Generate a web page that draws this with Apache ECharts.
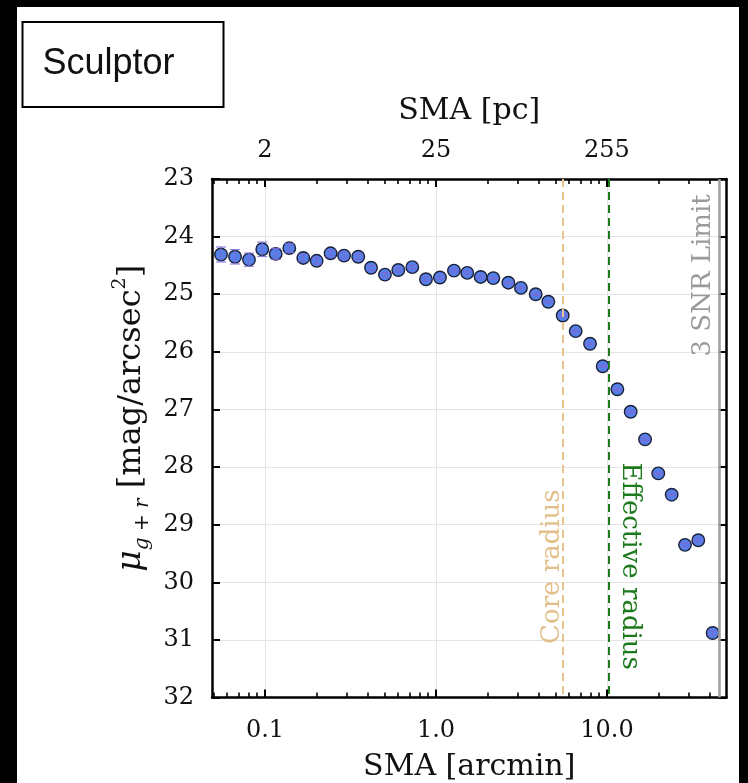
<!DOCTYPE html>
<html>
<head>
<meta charset="utf-8">
<script src="https://cdn.jsdelivr.net/npm/echarts@6/dist/echarts.min.js"></script>
<style>
  html, body { margin: 0; padding: 0; background: #000; width: 748px; height: 783px; overflow: hidden; }
  #panel { position: absolute; left: 17px; top: 7px; width: 722px; height: 776px; background: #fff; }
</style>
</head>
<body>
<div id="panel"></div>
<script>
// Surface-brightness profile of the Sculptor dwarf along the semi-major axis
const smaArcmin = [0.0553, 0.0668, 0.0806, 0.0964, 0.1155, 0.1387, 0.1675, 0.2005, 0.242, 0.290,
                   0.351, 0.417, 0.503, 0.602, 0.727, 0.874, 1.055, 1.274, 1.524, 1.825,
                   2.165, 2.65, 3.14, 3.83, 4.54, 5.51, 6.56, 7.96, 9.44, 11.5,
                   13.76, 16.7, 19.95, 23.9, 28.6, 34.2, 41.5];
const muGR = [24.31, 24.35, 24.40, 24.22, 24.30, 24.20, 24.37, 24.42, 24.29, 24.33,
              24.35, 24.54, 24.66, 24.58, 24.53, 24.74, 24.71, 24.59, 24.63, 24.70,
              24.72, 24.80, 24.89, 25.00, 25.13, 25.37, 25.64, 25.86, 26.25, 26.65,
              27.04, 27.52, 28.11, 28.48, 29.35, 29.27, 30.88];
const muErr = [0.13, 0.125, 0.115, 0.125, 0.095, 0.075, 0.06, 0.055, 0.05, 0.05,
               0.045, 0.04, 0.035, 0.035, 0.03, 0.03, 0.03, 0.025, 0.025, 0.025,
               0.02, 0.02, 0.02, 0.02, 0.02, 0.02, 0.02, 0.02, 0.02, 0.02,
               0.02, 0.02, 0.02, 0.02, 0.03, 0.03, 0.03];

// Axis ticks and labels
const arcminTicks = [0.1, 1, 10];
const arcminTickLabels = ['0.1', '1.0', '10.0'];
const pcTickLabels = ['2', '25', '255'];
const minorArcminTicks = [0.05, 0.06, 0.07, 0.08, 0.09, 0.2, 0.3, 0.4, 0.5, 0.6, 0.7, 0.8, 0.9,
                          2, 3, 4, 5, 6, 7, 8, 9, 20, 30, 40];
const xRange = [0.049, 50];
const yRange = [23, 32];

// Reference radii (arcmin)
const coreRadius = 5.5;
const effectiveRadius = 10.3;
const snrLimit = 45.6;

const SERIF = "'DejaVu Serif', serif";
const tickFont = { fontFamily: SERIF, fontSize: 24, color: '#111' };

const chart = echarts.init(document.getElementById('panel'), null, { renderer: 'canvas' });

function labelFor(values, texts) {
  return function (v) {
    for (let i = 0; i < values.length; i++) {
      if (Math.abs(Math.log10(v) - Math.log10(values[i])) < 1e-6) return texts[i];
    }
    return '';
  };
}

const axisLineStyle = { show: true, onZero: false, lineStyle: { color: '#000', width: 2.5 } };
const majorTick = { show: true, inside: true, length: 8, lineStyle: { color: '#000', width: 2 } };
const minorTick = { show: true, inside: true, length: 5, lineStyle: { color: '#000', width: 1.6 } };

// Minor ticks sit on helper axes that run over the decimal logarithm of the same range
const logRange = xRange.map(Math.log10);
const logMinorTicks = minorArcminTicks.map(Math.log10);
function minorAxis(position) {
  return {
    type: 'value', position, min: logRange[0], max: logRange[1],
    axisLine: { show: false, onZero: false },
    axisTick: { ...minorTick, customValues: logMinorTicks },
    axisLabel: { show: false }, splitLine: { show: false }
  };
}

const option = {
  animation: false,
  backgroundColor: '#fff',
  grid: { left: 195, top: 172, right: 12.5, bottom: 85.5, containLabel: false, outerBoundsMode: 'none' },
  xAxis: [
    { // bottom, arcmin scale
      type: 'log', logBase: 10, position: 'bottom', min: xRange[0], max: xRange[1],
      axisLine: axisLineStyle,
      axisTick: { ...majorTick, customValues: arcminTicks },
      axisLabel: { show: true, margin: 21, customValues: arcminTicks,
                   formatter: labelFor(arcminTicks, arcminTickLabels), ...tickFont },
      splitLine: { show: true, lineStyle: { color: '#e4e4e4', width: 1 } },
      name: 'SMA [arcmin]', nameLocation: 'middle', nameGap: 55,
      nameTextStyle: { fontFamily: SERIF, fontSize: 30, color: '#111' }
    },
    minorAxis('bottom'),
    { // top, parsec scale
      type: 'log', logBase: 10, position: 'top', min: xRange[0], max: xRange[1],
      axisLine: axisLineStyle,
      axisTick: { ...majorTick, customValues: arcminTicks },
      axisLabel: { show: true, margin: 16, customValues: arcminTicks,
                   formatter: labelFor(arcminTicks, pcTickLabels), ...tickFont },
      splitLine: { show: false },
      name: 'SMA [pc]', nameLocation: 'middle', nameGap: 53,
      nameTextStyle: { fontFamily: SERIF, fontSize: 30, color: '#111' }
    },
    minorAxis('top')
  ],
  yAxis: [
    {
      type: 'value', position: 'left', inverse: true, min: yRange[0], max: yRange[1], interval: 1,
      axisLine: axisLineStyle,
      axisTick: majorTick,
      axisLabel: { show: true, margin: 18, ...tickFont },
      splitLine: { show: true, lineStyle: { color: '#e4e4e4', width: 1 } },
      name: '{mu|μ}{sub|g + r} [mag/arcsec{sup|2}]',
      nameLocation: 'middle', nameGap: 56,
      nameTextStyle: {
        fontFamily: SERIF, fontSize: 32, color: '#111', lineHeight: 42,
        padding: [0, 0, 0, 40],
        rich: {
          mu: { fontFamily: SERIF, fontSize: 33, fontStyle: 'italic', color: '#111', lineHeight: 42 },
          sub: { fontFamily: SERIF, fontSize: 20, fontStyle: 'italic', color: '#111', lineHeight: 22, verticalAlign: 'bottom' },
          sup: { fontFamily: SERIF, fontSize: 19, color: '#111', lineHeight: 22, verticalAlign: 'top' }
        }
      }
    },
    {
      type: 'value', position: 'right', inverse: true, min: yRange[0], max: yRange[1], interval: 1,
      axisLine: axisLineStyle,
      axisTick: majorTick,
      axisLabel: { show: false }, splitLine: { show: false }
    }
  ],
  series: [
    {
      name: 'profile', type: 'scatter', xAxisIndex: 0, yAxisIndex: 0, z: 3,
      symbol: 'circle', symbolSize: 12.5,
      itemStyle: { color: '#5480e8', borderColor: '#1a2038', borderWidth: 1.4, opacity: 1 },
      data: smaArcmin.map((x, i) => [x, muGR[i]]),
      markLine: {
        silent: true, symbol: 'none', animation: false,
        label: { show: false },
        data: [
          { xAxis: coreRadius, lineStyle: { color: '#e9c38e', width: 2, type: [8, 5] } },
          { xAxis: effectiveRadius, lineStyle: { color: '#1c7a1c', width: 2, type: [8, 5] } },
          { xAxis: snrLimit, lineStyle: { color: '#a0a0a0', width: 2.5, type: 'solid' } }
        ]
      }
    },
    {
      name: 'errors', type: 'custom', xAxisIndex: 0, yAxisIndex: 0, z: 4, silent: true,
      data: smaArcmin.map((x, i) => [x, muGR[i], muErr[i]]),
      renderItem: function (params, api) {
        const x = api.value(0), y = api.value(1), e = api.value(2);
        const lo = api.coord([x, y - e]);
        const hi = api.coord([x, y + e]);
        const cap = 5;
        const style = { stroke: 'rgba(125,105,215,0.85)', lineWidth: 1.2 };
        return {
          type: 'group',
          children: [
            { type: 'line', shape: { x1: lo[0], y1: lo[1], x2: hi[0], y2: hi[1] }, style },
            { type: 'line', shape: { x1: lo[0] - cap, y1: lo[1], x2: lo[0] + cap, y2: lo[1] }, style },
            { type: 'line', shape: { x1: hi[0] - cap, y1: hi[1], x2: hi[0] + cap, y2: hi[1] }, style }
          ]
        };
      }
    }
  ]
};

chart.setOption(option);

// Annotation texts placed along the reference radii
function px(x, y) { return chart.convertToPixel({ seriesIndex: 0 }, [x, y]); }
const coreAt = px(coreRadius, 31.07);
const effAt = px(effectiveRadius, 27.92);
const snrAt = px(snrLimit, 26.08);
const annFont = { fontFamily: SERIF, fontSize: 26 };

chart.setOption({
  graphic: [
    {
      type: 'group', left: 4.5, top: 14,
      children: [
        { type: 'rect', shape: { x: 0, y: 0, width: 201, height: 85 },
          style: { fill: '#fff', stroke: '#000', lineWidth: 2 } },
        { type: 'text', x: 20, y: 42.5,
          style: { text: 'Sculptor', fontFamily: "'Liberation Sans', Arial, sans-serif", fontSize: 36,
                   fill: '#111', verticalAlign: 'middle', align: 'left' } }
      ]
    },
    { type: 'text', x: coreAt[0] + 3, y: coreAt[1], rotation: Math.PI / 2, z: 10,
      style: { text: 'Core radius', ...annFont, fill: '#e3bf8c', align: 'left', verticalAlign: 'bottom' } },
    { type: 'text', x: effAt[0] + 8, y: effAt[1], rotation: -Math.PI / 2, z: 10,
      style: { text: 'Effective radius', ...annFont, fill: '#1c7a1c', align: 'left', verticalAlign: 'bottom' } },
    { type: 'text', x: snrAt[0] - 3, y: snrAt[1], rotation: Math.PI / 2, z: 10,
      style: { text: '3 SNR Limit', ...annFont, fill: '#9a9a9a', align: 'left', verticalAlign: 'bottom' } }
  ]
});
</script>
</body>
</html>
